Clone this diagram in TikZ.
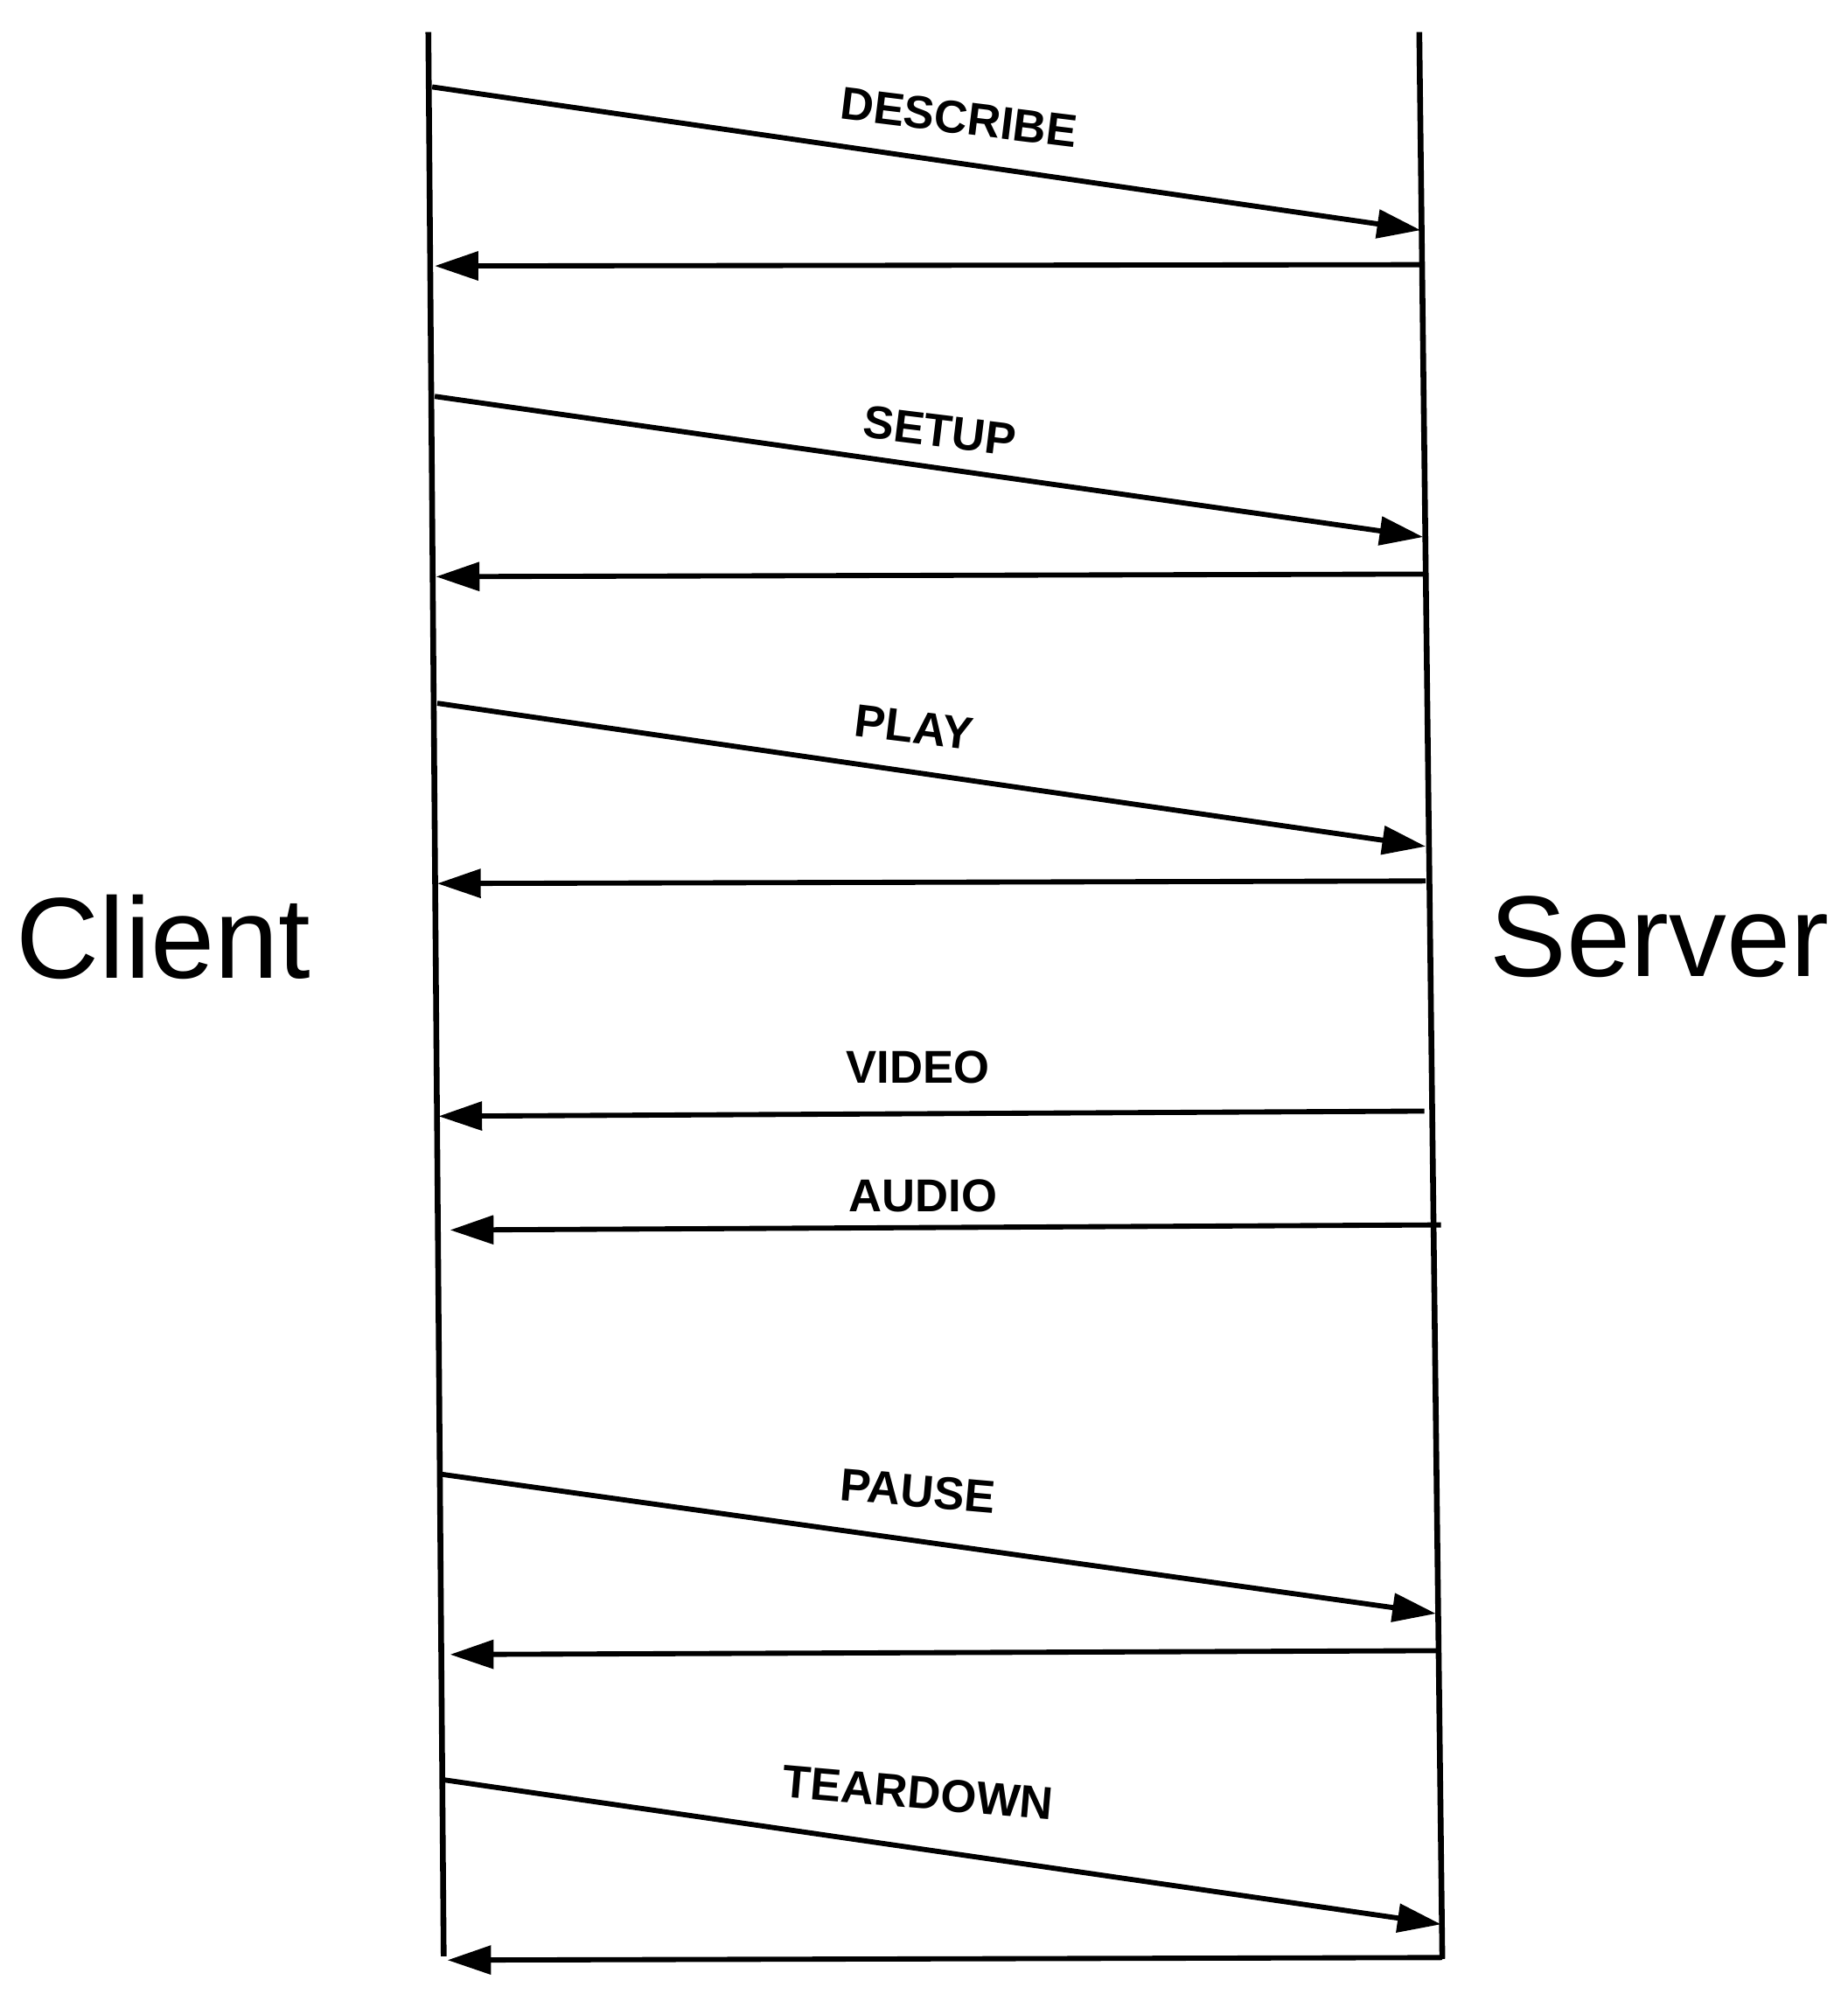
\documentclass[tikz,border=0pt]{standalone}
\usepackage{fontspec}
\setmainfont{Liberation Sans}
\usetikzlibrary{arrows.meta}
\begin{document}
\begin{tikzpicture}[x=1pt,y=-1pt,
  life/.style={line width=4.5pt},
  msg/.style={line width=4pt,-{Triangle[length=34pt,width=22pt]}},
  lbl/.style={font=\bfseries\fontsize{36}{36}\selectfont,inner sep=0pt},
  side/.style={font=\fontsize{90}{90}\selectfont,inner sep=0pt}]
\useasboundingbox (0,0) rectangle (1445,1565);
\coordinate (ct) at (335,25); \coordinate (cb) at (347,1530);
\coordinate (st) at (1110,25); \coordinate (sb) at (1128,1532);
\draw[life] (ct) -- (cb);
\draw[life] (st) -- (sb);
\node[side] (client) at (128,733) {Client};
\node[side] (server) at (1298,733) {Server};
% DESCRIBE
\coordinate (d1) at (338,68); \coordinate (d2) at (1111,180);
\coordinate (d3) at (1111,207); \coordinate (d4) at (340,208);
\draw[msg] (d1) -- (d2); \draw[msg] (d3) -- (d4);
\node[lbl,rotate=-7] (ldescribe) at (750,92) {DESCRIBE};
% SETUP
\coordinate (s1) at (340,310); \coordinate (s2) at (1113,420);
\coordinate (s3) at (1113,449); \coordinate (s4) at (341,451);
\draw[msg] (s1) -- (s2); \draw[msg] (s3) -- (s4);
\node[lbl,rotate=-7] (lsetup) at (735,337) {SETUP};
% PLAY
\coordinate (p1) at (342,550); \coordinate (p2) at (1115,662);
\coordinate (p3) at (1115,689); \coordinate (p4) at (342,691);
\draw[msg] (p1) -- (p2); \draw[msg] (p3) -- (p4);
\node[lbl,rotate=-7] (lplay) at (715,569) {PLAY};
% VIDEO / AUDIO
\coordinate (v1) at (1114,869); \coordinate (v2) at (343,873);
\draw[msg] (v1) -- (v2);
\node[lbl] (lvideo) at (718,835) {VIDEO};
\coordinate (a1) at (1127,958); \coordinate (a2) at (352,962);
\draw[msg] (a1) -- (a2);
\node[lbl] (laudio) at (722,935) {AUDIO};
% PAUSE
\coordinate (q1) at (345,1153); \coordinate (q2) at (1123,1262);
\coordinate (q3) at (1123,1291); \coordinate (q4) at (352,1294);
\draw[msg] (q1) -- (q2); \draw[msg] (q3) -- (q4);
\node[lbl,rotate=-5] (lpause) at (718,1166) {PAUSE};
% TEARDOWN
\coordinate (t1) at (347,1392); \coordinate (t2) at (1127,1505);
\coordinate (t3) at (1128,1531); \coordinate (t4) at (350,1533);
\draw[msg] (t1) -- (t2); \draw[msg] (t3) -- (t4);
\node[lbl,rotate=-5] (lteardown) at (718,1402) {TEARDOWN};
\end{tikzpicture}
\end{document}
